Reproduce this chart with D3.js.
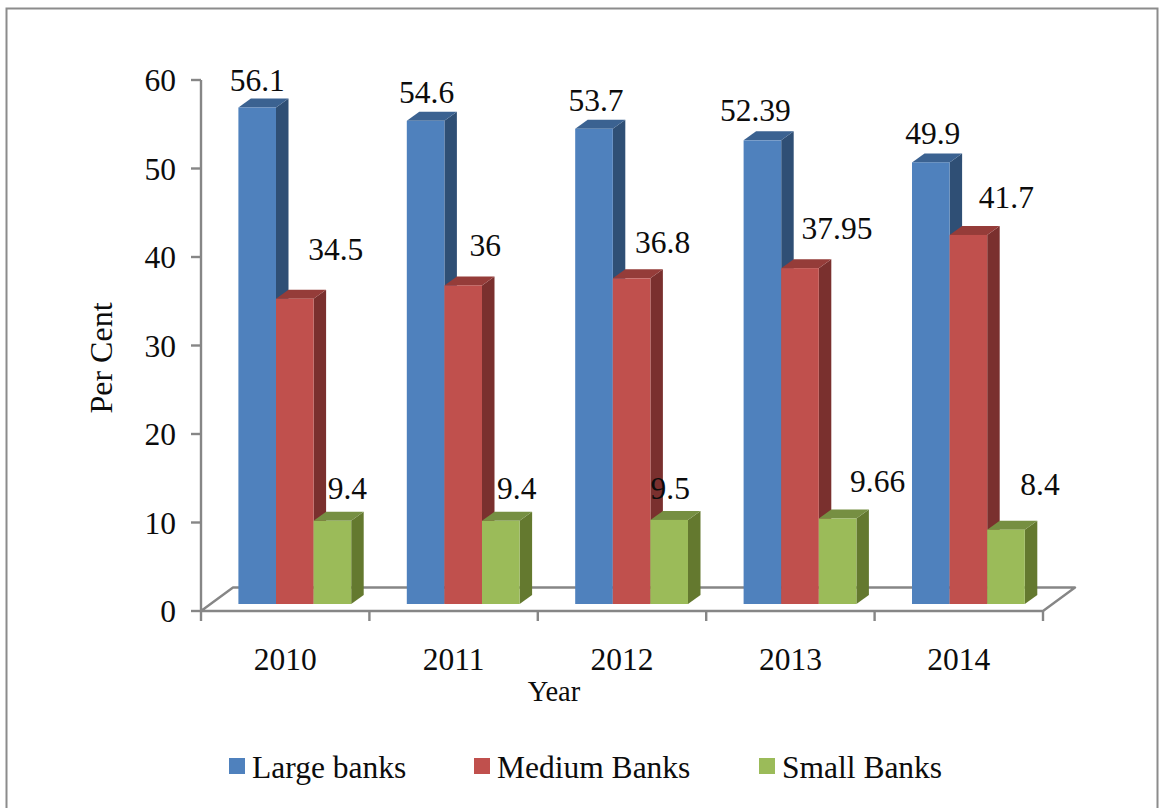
<!DOCTYPE html>
<html><head><meta charset="utf-8">
<script src="https://cdn.jsdelivr.net/npm/d3@7"></script>
<style>html,body{margin:0;padding:0;background:#fff}svg{display:block}text{font-family:"Liberation Serif","Times New Roman",serif;fill:#0c0c0c}</style>
</head><body><svg id="c" width="1159" height="808"></svg>
<script>
const years=["2010","2011","2012","2013","2014"];
const seriesNames=["Large banks","Medium Banks","Small Banks"];
const largeBanks=[56.1,54.6,53.7,52.39,49.9];
const mediumBanks=[34.5,36,36.8,37.95,41.7];
const smallBanks=[9.4,9.4,9.5,9.66,8.4];
const yTicks=[0,10,20,30,40,50,60];
const frontColors=["#4f81bd","#c0504d","#9bbb59"];
const sideColors=["#2f4f75","#7a302e","#64792f"];
const topColors=["#3b6291","#953c39","#768f42"];
// hand-placed label nudges from the bar's centre/top [dx,dy baseline]
const labelNudge=[
 [[0,-17],[1,-18],[2,-18],[-7,-19],[2,-18]],
 [[41,-39],[22,-29],[31,-25],[37,-29],[38,-27]],
 [[15,-22],[16,-22],[1,-21],[40,-27],[34,-35]]];
const values=[largeBanks,mediumBanks,smallBanks];
const svg=d3.select("#c");
const x0=d3.scaleBand().domain(years).range([201,1043]);
const y=d3.scaleLinear().domain([0,60]).range([611,80]);
const barW=37.6,barInset=37.4,lift=7,dx=12.5,dy=9,fx=32,fy=23.5;
const gray="#868686";
// outer frame
svg.append("path").attr("d",`M6.5 808V8.5H1157.5V808`).attr("fill","none").attr("stroke","#8c8c8c").attr("stroke-width",2);
// axes & floor
const g=svg.append("g").attr("fill","none").attr("stroke",gray).attr("stroke-width",2.4);
g.append("path").attr("d",`M201 ${y(60)}V${y(0)}H1043L${1043+fx} ${y(0)-fy}H${201+fx}L201 ${y(0)}`).attr("stroke-linejoin","round");
g.selectAll(".yt").data(yTicks).join("line").attr("x1",191).attr("x2",201).attr("y1",d=>y(d)).attr("y2",d=>y(d));
const xt=years.map(d=>x0(d)).concat([x0.range()[1]]);
g.selectAll(".xt").data(xt).join("line").attr("x1",d=>d).attr("x2",d=>d).attr("y1",y(0)).attr("y2",y(0)+10);
// bars
years.forEach((yr,i)=>{
 seriesNames.forEach((s,k)=>{
  const v=values[k][i];
  const l=x0(yr)+barInset+k*barW,r=l+barW,b=y(0)-lift,t=y(v)-lift;
  const gb=svg.append("g");
  gb.append("path").attr("d",`M${r} ${b}V${t}L${r+dx} ${t-dy}V${b-dy}Z`).attr("fill",sideColors[k]);
  gb.append("path").attr("d",`M${l} ${t}L${l+dx} ${t-dy}H${r+dx}L${r} ${t}Z`).attr("fill",topColors[k]);
  gb.append("rect").attr("x",l).attr("y",t).attr("width",barW).attr("height",b-t).attr("fill",frontColors[k]);
 });
});
// labels
years.forEach((yr,i)=>{
 seriesNames.forEach((s,k)=>{
  const v=values[k][i];
  const l=x0(yr)+barInset+k*barW;
  svg.append("text").attr("x",l+barW/2+labelNudge[k][i][0]).attr("y",y(v)-lift+labelNudge[k][i][1]).attr("text-anchor","middle").attr("font-size",31.5).text(v);
 });
});
// tick labels
svg.selectAll(".yl").data(yTicks).join("text").attr("x",176).attr("y",d=>y(d)+11).attr("text-anchor","end").attr("font-size",31.5).text(d=>d);
svg.selectAll(".xl").data(years).join("text").attr("x",d=>x0(d)+x0.bandwidth()/2).attr("y",670).attr("text-anchor","middle").attr("font-size",31.5).text(d=>d);
svg.append("text").attr("x",554).attr("y",701).attr("text-anchor","middle").attr("font-size",28.5).text("Year");
svg.append("text").attr("transform","translate(112,358) rotate(-90)").attr("text-anchor","middle").attr("font-size",32).text("Per Cent");
// legend
const lx=[229,474,759];
seriesNames.forEach((s,k)=>{
 svg.append("rect").attr("x",lx[k]).attr("y",758).attr("width",16).attr("height",16).attr("fill",frontColors[k]);
 svg.append("text").attr("x",lx[k]+23).attr("y",778).attr("font-size",31.5).text(s);
});
</script></body></html>
